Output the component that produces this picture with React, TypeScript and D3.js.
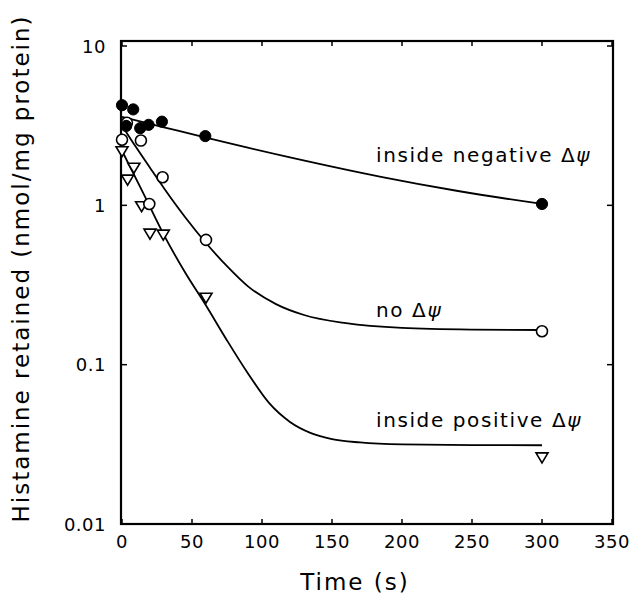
import React from "react";
import * as d3 from "d3";

// ---- data ----
const xTicks = [0, 50, 100, 150, 200, 250, 300, 350];
const yTicks = [0.01, 0.1, 1, 10];
const yTickLabels = ["0.01", "0.1", "1", "10"];

// inside negative Δψ (filled circles)
const negT = [0, 8, 3, 13, 19, 28.5, 59.5, 300];
const negV = [4.25, 4.0, 3.15, 3.05, 3.2, 3.35, 2.72, 1.02];
// no Δψ (open circles)
const noT = [0, 3.5, 13.5, 19.5, 29, 60, 300];
const noV = [2.58, 3.3, 2.55, 1.02, 1.5, 0.607, 0.162];
// inside positive Δψ (open inverted triangles)
const posT = [0, 4, 8.5, 14, 20, 29.5, 60, 300];
const posV = [2.17, 1.44, 1.71, 0.98, 0.66, 0.65, 0.261, 0.026];

// fitted curves
const negFitT = [0, 30, 60, 120, 185, 240, 300];
const negFitV = [3.59, 3.09, 2.66, 2.0, 1.51, 1.23, 1.02];
const noFitT = [0, 10, 20, 30, 45, 60, 75, 90, 110, 130, 160, 200, 250, 300];
const noFitV = [3.17, 2.32, 1.72, 1.28, 0.845, 0.58, 0.415, 0.31, 0.24, 0.205, 0.182, 0.17, 0.166, 0.165];
const posFitT = [0, 15, 30, 45, 60, 75, 90, 105, 120, 135, 150, 170, 200, 250, 300];
const posFitV = [2.2, 1.2, 0.65, 0.38, 0.235, 0.142, 0.088, 0.0575, 0.0437, 0.0372, 0.0341, 0.0325, 0.0316, 0.0313, 0.0312];

const labelTexts = ["inside negative ", "no ", "inside positive "];
const labelBaselines = [162, 317, 427];

const W = 637;
const H = 600;
const left = 122;
const right = 612;
const top = 46;
const bottom = 524;
const frameTop = 41;

const FONT = "'DejaVu Sans', sans-serif";

export default function App() {
  const x = d3.scaleLinear().domain([0, 350]).range([left, right]);
  const y = d3.scaleLog().domain([0.01, 10]).range([bottom, top]);

  const line = d3
    .line<[number, number]>()
    .x((d) => x(d[0]))
    .y((d) => y(d[1]))
    .curve(d3.curveMonotoneX);

  const zip = (a: number[], b: number[]) => a.map((t, i) => [t, b[i]] as [number, number]);

  const tri = (cx: number, cy: number) => {
    const w = 6, h = 5;
    return `M${cx - w},${cy - h}L${cx + w},${cy - h}L${cx},${cy + h}Z`;
  };

  return (
    <svg width={W} height={H} style={{ position: "absolute", left: 0, top: 0, background: "#fff" }}>
      <rect x={0} y={0} width={W} height={H} fill="#fff" />
      {/* frame */}
      <rect x={x(0) - 1} y={frameTop} width={x(350) - x(0) + 2} height={bottom - frameTop} fill="none" stroke="#000" strokeWidth={2.2} />
      {/* x ticks */}
      {xTicks.map((t) => (
        <g key={"xt" + t}>
          <line x1={x(t)} x2={x(t)} y1={bottom} y2={bottom - 5} stroke="#000" strokeWidth={1.5} />
          <line x1={x(t)} x2={x(t)} y1={frameTop} y2={frameTop + 5} stroke="#000" strokeWidth={1.5} />
          <text x={x(t)} y={548} textAnchor="middle" fontFamily={FONT} fontSize={18} letterSpacing={0.5}>
            {t}
          </text>
        </g>
      ))}
      {/* y ticks */}
      {yTicks.map((v, i) => (
        <g key={"yt" + v}>
          <line x1={x(0)} x2={x(0) + 5} y1={y(v)} y2={y(v)} stroke="#000" strokeWidth={1.5} />
          <line x1={x(350)} x2={x(350) - 5} y1={y(v)} y2={y(v)} stroke="#000" strokeWidth={1.5} />
          <text x={106} y={y(v) + 6.5} textAnchor="end" fontFamily={FONT} fontSize={18} letterSpacing={0.5}>
            {yTickLabels[i]}
          </text>
        </g>
      ))}
      {/* axis titles */}
      <text x={355} y={590} textAnchor="middle" fontFamily={FONT} fontSize={23} letterSpacing={2}>
        Time (s)
      </text>
      <text
        transform={`translate(29,${(frameTop + bottom) / 2 - 14}) rotate(-90)`}
        textAnchor="middle"
        fontFamily={FONT}
        fontSize={23}
        letterSpacing={2}
      >
        Histamine retained (nmol/mg protein)
      </text>

      {/* fitted curves */}
      <path d={line(zip(negFitT, negFitV)) || ""} fill="none" stroke="#000" strokeWidth={1.8} />
      <path d={line(zip(noFitT, noFitV)) || ""} fill="none" stroke="#000" strokeWidth={1.8} />
      <path d={line(zip(posFitT, posFitV)) || ""} fill="none" stroke="#000" strokeWidth={1.8} />

      {/* markers */}
      {posT.map((t, i) => (
        <path key={"p" + i} d={tri(x(t), y(posV[i]))} fill="#fff" stroke="#000" strokeWidth={1.6} />
      ))}
      {noT.map((t, i) => (
        <circle key={"o" + i} cx={x(t)} cy={y(noV[i])} r={5.5} fill="#fff" stroke="#000" strokeWidth={1.6} />
      ))}
      {negT.map((t, i) => (
        <circle key={"f" + i} cx={x(t)} cy={y(negV[i])} r={5.6} fill="#000" stroke="#000" strokeWidth={1} />
      ))}

      {/* labels */}
      {labelTexts.map((txt, i) => (
        <text key={"l" + i} x={376} y={labelBaselines[i]} fontFamily={FONT} fontSize={20} letterSpacing={1.6}>
          {txt}
          <tspan>Δ</tspan>
          <tspan fontStyle="italic">ψ</tspan>
        </text>
      ))}
    </svg>
  );
}
